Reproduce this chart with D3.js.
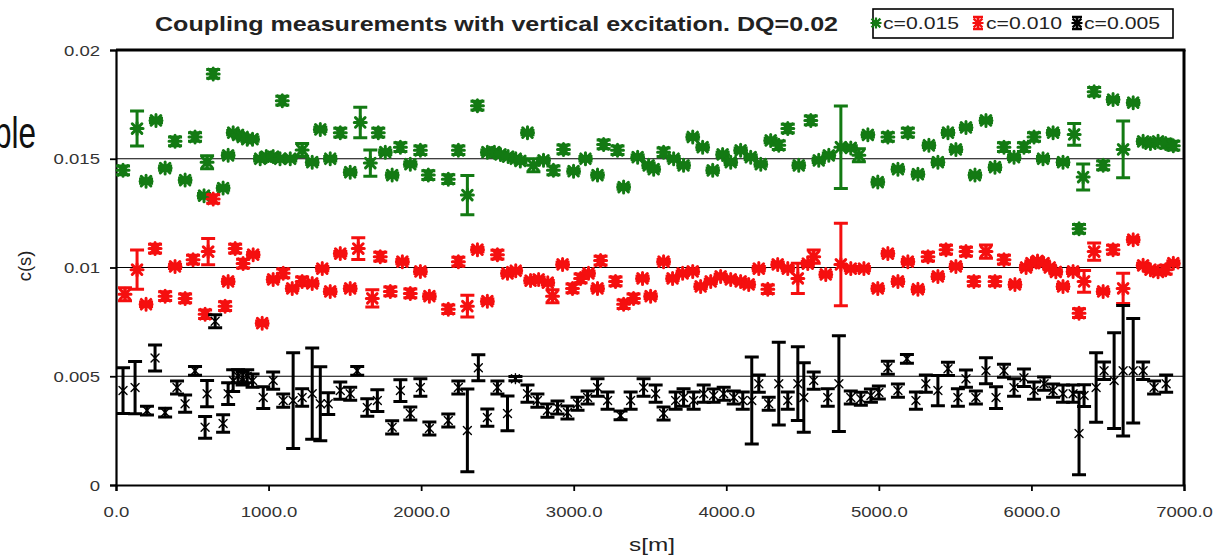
<!DOCTYPE html>
<html>
<head>
<meta charset="utf-8">
<script src="https://cdn.jsdelivr.net/npm/d3@7"></script>
<style>
  html, body { margin: 0; padding: 0; background: #fff; }
  svg { display: block; font-family: "Liberation Sans", Arial, sans-serif; }
</style>
</head>
<body>
<svg id="chart" width="1230" height="557"></svg>
<script>
// ---------- data (s [m], c, error half-width) ----------
const seriesNames = ["c=0.015", "c=0.010", "c=0.005"];
const yTickValues = [0, 0.005, 0.01, 0.015, 0.02];
const yTickLabels = ["0", "0.005", "0.01", "0.015", "0.02"];
const xTickValues = [0, 1000, 2000, 3000, 4000, 5000, 6000, 7000];
const xTickLabels = ["0.0", "1000.0", "2000.0", "3000.0", "4000.0", "5000.0", "6000.0", "7000.0"];
const gridValues = [0.005, 0.01, 0.015];

const greenData = [
  [46,0.01447,0.0002],[138,0.01639,0.0008],[197,0.01397,0.0001],[262,0.01676,0.0001],[322,0.01457,0.0001],
  [387,0.0158,0.0002],[453,0.01402,0.0001],[518,0.0160,0.0002],[577,0.0133,0.0001],[597,0.01484,0.0003],
  [637,0.0189,0.0002],[702,0.01365,0.0001],[735,0.01516,0.0001],[768,0.0162,0.0001],[800,0.0161,0.0001],
  [830,0.0160,0.0001],[860,0.0159,0.0001],[895,0.0159,0.0001],[945,0.0150,0.0001],[985,0.0151,0.0001],
  [1030,0.0151,0.0001],[1075,0.0150,0.0001],[1090,0.01767,0.0002],[1142,0.0150,0.0001],[1220,0.0154,0.0003],
  [1286,0.01484,0.0001],[1339,0.01635,0.0001],[1404,0.0150,0.0001],[1470,0.0162,0.0002],[1535,0.01438,0.0001],
  [1601,0.01667,0.0007],[1667,0.0148,0.0006],[1719,0.0162,0.0002],[1765,0.0153,0.0001],[1810,0.01425,0.0001],
  [1864,0.01553,0.0002],[1929,0.01475,0.0001],[1995,0.01539,0.0002],[2047,0.01425,0.0002],[2178,0.01406,0.0002],
  [2244,0.01539,0.0002],[2303,0.01333,0.0009],[2369,0.01744,0.0002],[2434,0.0153,0.0001],[2480,0.0153,0.0001],
  [2520,0.0152,0.0001],[2570,0.0151,0.0001],[2620,0.0150,0.0001],[2650,0.0149,0.0001],[2697,0.0162,0.0001],
  [2736,0.0147,0.0003],[2802,0.01493,0.0001],[2867,0.01447,0.0002],[2933,0.01543,0.0002],[2999,0.01443,0.0001],
  [3077,0.0150,0.0001],[3156,0.01425,0.0001],[3196,0.01566,0.0002],[3287,0.01539,0.0002],[3327,0.0137,0.0001],
  [3419,0.01507,0.0001],[3491,0.0147,0.0001],[3524,0.01452,0.0001],[3589,0.0153,0.0002],[3655,0.0150,0.0001],
  [3720,0.0147,0.0001],[3780,0.0160,0.0001],[3845,0.01553,0.0001],[3911,0.01447,0.0001],[3976,0.0152,0.0001],
  [4029,0.01484,0.0001],[4094,0.01539,0.0001],[4160,0.01507,0.0001],[4226,0.01475,0.0001],[4291,0.01584,0.0001],
  [4344,0.01562,0.0002],[4403,0.01639,0.0002],[4475,0.0147,0.0001],[4554,0.01676,0.0002],[4606,0.01493,0.0001],
  [4672,0.01516,0.0001],[4751,0.01553,0.0019],[4816,0.0155,0.0001],[4869,0.01516,0.0003],[4928,0.0161,0.0001],
  [4993,0.01393,0.0001],[5059,0.0160,0.0002],[5125,0.01452,0.0001],[5190,0.0162,0.0002],[5256,0.01429,0.0001],
  [5328,0.01562,0.0001],[5387,0.01484,0.0001],[5453,0.0162,0.0001],[5505,0.01543,0.0001],[5571,0.01644,0.0001],
  [5630,0.01425,0.0001],[5702,0.01676,0.0001],[5761,0.01461,0.0001],[5820,0.01553,0.0002],[5886,0.01507,0.0001],
  [5951,0.01553,0.0002],[6017,0.0160,0.0002],[6076,0.0150,0.0001],[6142,0.0162,0.0001],[6207,0.01484,0.0001],
  [6280,0.01612,0.0005],[6312,0.01178,0.0002],[6339,0.01416,0.0006],[6411,0.01808,0.0002],[6470,0.0147,0.0002],
  [6535,0.01772,0.0001],[6601,0.01543,0.0013],[6667,0.01758,0.0001],[6732,0.0158,0.0001],[6780,0.0157,0.0001],
  [6830,0.0158,0.0001],[6880,0.0157,0.0002],[6930,0.0156,0.0002]
];

const redData = [
  [59,0.00877,0.0003],[138,0.0099,0.0009],[197,0.00831,0.0001],[256,0.01087,0.0002],[322,0.00868,0.0002],
  [387,0.01005,0.0001],[453,0.00858,0.0002],[505,0.01036,0.0002],[584,0.00785,0.0002],[604,0.01073,0.0006],
  [637,0.01315,0.0002],[715,0.00822,0.0002],[735,0.00936,0.0001],[781,0.01087,0.0002],[833,0.01018,0.0002],
  [899,0.01059,0.0001],[958,0.00744,0.0001],[1030,0.00945,0.0001],[1096,0.00973,0.0002],[1155,0.00904,0.0001],
  [1220,0.00936,0.0002],[1286,0.00927,0.0001],[1352,0.00995,0.0001],[1404,0.0089,0.0001],[1470,0.01064,0.0001],
  [1535,0.00904,0.0001],[1588,0.01087,0.0005],[1680,0.00858,0.0004],[1732,0.0105,0.0002],[1798,0.0089,0.0002],
  [1877,0.01027,0.0001],[1929,0.00881,0.0002],[1995,0.00982,0.0001],[2054,0.00868,0.0001],[2178,0.00808,0.0002],
  [2244,0.01027,0.0002],[2303,0.00822,0.0005],[2369,0.01082,0.0001],[2434,0.00845,0.0001],[2500,0.01059,0.0002],
  [2566,0.00973,0.0001],[2620,0.00985,0.0001],[2717,0.0094,0.0001],[2770,0.00945,0.0001],[2830,0.0093,0.0001],
  [2861,0.00868,0.0003],[2927,0.01014,0.0001],[2992,0.00904,0.0002],[3045,0.0095,0.0002],[3097,0.00973,0.0001],
  [3156,0.00904,0.0001],[3176,0.01032,0.0002],[3274,0.00936,0.0002],[3327,0.00831,0.0002],[3392,0.00858,0.0002],
  [3451,0.0095,0.0001],[3504,0.00868,0.0001],[3589,0.01027,0.0001],[3648,0.0095,0.0001],[3714,0.00973,0.0001],
  [3780,0.00982,0.0001],[3832,0.00913,0.0001],[3898,0.00936,0.0001],[3963,0.00959,0.0001],[4029,0.00945,0.0001],
  [4094,0.00936,0.0001],[4147,0.00922,0.0001],[4213,0.00995,0.0001],[4272,0.0090,0.0002],[4337,0.01014,0.0001],
  [4403,0.00995,0.0001],[4469,0.0095,0.0007],[4534,0.01018,0.0001],[4573,0.0105,0.0003],[4652,0.00968,0.0001],
  [4751,0.01014,0.0019],[4816,0.00995,0.0001],[4902,0.00995,0.0001],[4993,0.00904,0.0001],[5059,0.01064,0.0001],
  [5125,0.00936,0.0001],[5190,0.01027,0.0001],[5256,0.0090,0.0001],[5322,0.0105,0.0002],[5387,0.00959,0.0001],
  [5440,0.01082,0.0002],[5505,0.01005,0.0001],[5571,0.01073,0.0002],[5623,0.00936,0.0002],[5702,0.01073,0.0003],
  [5761,0.00936,0.0002],[5820,0.01036,0.0002],[5892,0.00922,0.0001],[5965,0.0100,0.0001],[6000,0.0102,0.0001],
  [6040,0.0103,0.0001],[6080,0.0102,0.0001],[6120,0.0100,0.0001],[6160,0.0098,0.0001],[6207,0.00913,0.0001],
  [6273,0.00982,0.0001],[6312,0.0079,0.0002],[6345,0.00936,0.0005],[6411,0.01073,0.0004],[6470,0.0089,0.0001],
  [6535,0.01082,0.0002],[6601,0.00904,0.0007],[6667,0.01128,0.0001],[6732,0.0101,0.0001],[6780,0.0099,0.0001],
  [6830,0.0098,0.0001],[6880,0.0099,0.0002],[6930,0.0102,0.0001]
];

const blackData = [
  [46,0.00434,0.00105],[125,0.00448,0.0012],[203,0.00342,0.0002],[256,0.00584,0.0006],[322,0.00333,0.0002],
  [400,0.00448,0.0003],[453,0.00374,0.0004],[518,0.00525,0.0002],[584,0.00265,0.0005],[597,0.0042,0.0006],
  [650,0.00753,0.0003],[702,0.00283,0.0004],[735,0.0042,0.0005],[768,0.0048,0.0005],[800,0.0050,0.0003],
  [830,0.0049,0.0003],[860,0.0050,0.0003],[895,0.0048,0.0003],[965,0.00402,0.0005],[1030,0.0048,0.0004],
  [1096,0.00388,0.0003],[1161,0.00388,0.0022],[1220,0.00402,0.0004],[1286,0.0042,0.0021],[1339,0.00374,0.0017],
  [1391,0.00374,0.0005],[1470,0.00434,0.0004],[1535,0.0042,0.0003],[1581,0.00525,0.0002],[1647,0.00356,0.0004],
  [1713,0.00388,0.0005],[1810,0.00265,0.0003],[1864,0.00434,0.0005],[1929,0.00329,0.0003],[1995,0.00448,0.0004],
  [2054,0.0026,0.0003],[2178,0.00297,0.0003],[2244,0.00448,0.0003],[2303,0.00251,0.0019],[2375,0.00539,0.0006],
  [2434,0.0031,0.0004],[2500,0.00448,0.0003],[2566,0.00329,0.0008],[2618,0.00489,0.0001],[2697,0.0042,0.0004],
  [2762,0.00388,0.0003],[2828,0.00342,0.0003],[2894,0.00356,0.0003],[2959,0.00333,0.0003],[3025,0.00374,0.0003],
  [3091,0.00402,0.0003],[3156,0.00448,0.0004],[3222,0.00388,0.0004],[3307,0.0032,0.0002],[3373,0.00388,0.0004],
  [3458,0.00448,0.0004],[3537,0.0042,0.0004],[3589,0.00329,0.0003],[3668,0.00388,0.0004],[3720,0.00402,0.0004],
  [3786,0.00388,0.0004],[3852,0.0042,0.0004],[3917,0.00411,0.0003],[3983,0.0042,0.0003],[4049,0.00402,0.0003],
  [4108,0.00388,0.0004],[4167,0.00388,0.002],[4213,0.00466,0.0004],[4278,0.00374,0.0003],[4344,0.00466,0.0019],
  [4403,0.00388,0.0004],[4469,0.00466,0.0017],[4508,0.00402,0.0016],[4573,0.0048,0.0004],[4665,0.00402,0.0004],
  [4738,0.00466,0.0022],[4816,0.00402,0.0003],[4882,0.00397,0.0003],[4948,0.00411,0.0003],[5000,0.00425,0.0003],
  [5059,0.00539,0.0003],[5125,0.00434,0.0003],[5184,0.0058,0.0002],[5243,0.00388,0.0004],[5308,0.00466,0.0004],
  [5387,0.00434,0.0007],[5453,0.00534,0.0003],[5518,0.00402,0.0004],[5571,0.00489,0.0004],[5636,0.00402,0.0003],
  [5702,0.00525,0.0006],[5768,0.00402,0.0005],[5820,0.00525,0.0003],[5886,0.00448,0.0004],[5951,0.00493,0.0004],
  [6017,0.00434,0.0004],[6083,0.00466,0.0003],[6142,0.00434,0.0003],[6207,0.0042,0.0004],[6273,0.0042,0.0004],
  [6312,0.00237,0.0019],[6345,0.00411,0.0005],[6424,0.00448,0.0016],[6476,0.00525,0.0004],[6542,0.0048,0.0022],
  [6601,0.00525,0.003],[6667,0.00525,0.0024],[6732,0.00525,0.0004],[6804,0.00448,0.0003],[6883,0.00466,0.0004]
];

const seriesColors = ["#137a13", "#f50f0f", "#000000"];

// ---------- layout ----------
const svg = d3.select("#chart");
const plotL = 116, plotR = 1184, plotT = 50, plotB = 485;
const x = d3.scaleLinear().domain([0, 7000]).range([plotL, plotR]);
const y = d3.scaleLinear().domain([0, 0.02]).range([plotB, plotT]);
const SX = 1.28; // horizontal stretch of the original text

svg.append("rect").attr("width", 1230).attr("height", 557).attr("fill", "#fff");

// left-over slide text (partly off the left edge, as in the reference)
svg.append("text").attr("transform", "translate(36,148) scale(0.7,1)")
  .attr("text-anchor", "end").attr("font-size", 45).attr("fill", "#111").text("ple");

// title
svg.append("text").attr("x", 155).attr("y", 31)
  .attr("font-size", 20.5).attr("font-weight", "bold").attr("fill", "#222")
  .attr("textLength", 683).attr("lengthAdjust", "spacingAndGlyphs")
  .text("Coupling measurements with vertical excitation. DQ=0.02");

// grid lines
svg.append("g").selectAll("line").data(gridValues).join("line")
  .attr("x1", plotL).attr("x2", plotR)
  .attr("y1", d => y(d)).attr("y2", d => y(d))
  .attr("stroke", "#000").attr("stroke-width", 1.2);

// frame top / right
svg.append("line").attr("x1", plotL).attr("x2", plotR + 1.5).attr("y1", plotT).attr("y2", plotT)
  .attr("stroke", "#000").attr("stroke-width", 3);
svg.append("line").attr("x1", plotR).attr("x2", plotR).attr("y1", plotT).attr("y2", plotB)
  .attr("stroke", "#000").attr("stroke-width", 3);

// axes
const yAxis = d3.axisLeft(y).tickValues(yTickValues)
  .tickFormat((d, i) => yTickLabels[i]).tickSizeOuter(0).tickSize(6);
const gy = svg.append("g").attr("transform", `translate(${plotL},0)`).call(yAxis);
gy.select(".domain").attr("stroke-width", 2.2);
gy.selectAll(".tick line").attr("stroke-width", 1.8);
gy.selectAll(".tick text")
  .attr("x", -16 / SX).attr("dy", "0.36em")
  .attr("transform", `scale(${SX},1)`)
  .attr("font-size", 14.5).attr("fill", "#333")
  .attr("font-family", "'Liberation Sans', Arial, sans-serif");

const xAxis = d3.axisBottom(x).tickValues(xTickValues)
  .tickFormat((d, i) => xTickLabels[i]).tickSizeOuter(0).tickSize(6);
const gx = svg.append("g").attr("transform", `translate(0,${plotB})`).call(xAxis);
gx.select(".domain").attr("stroke-width", 2.2);
gx.selectAll(".tick line").attr("stroke-width", 1.8);
gx.selectAll(".tick text")
  .attr("y", 32).attr("dy", 0)
  .attr("transform", `scale(${SX},1)`)
  .attr("font-size", 14.5).attr("fill", "#333")
  .attr("font-family", "'Liberation Sans', Arial, sans-serif");

// axis titles
svg.append("text").attr("transform", `translate(652,551) scale(${SX},1)`)
  .attr("text-anchor", "middle").attr("font-size", 19).attr("fill", "#222").text("s[m]");
svg.append("text").attr("transform", `translate(31,266) rotate(-90) scale(1.15,1.2)`)
  .attr("text-anchor", "middle").attr("font-size", 16).attr("fill", "#222").text("c(s)");

// ---------- markers ----------
function starPath(r, thin) {
  const d = r * 0.8;
  let p = `M0,${-r}L0,${r}M${-d},${-d}L${d},${d}M${-d},${d}L${d},${-d}`;
  if (!thin) p += `M${-r},0L${r},0`;
  return p;
}

function drawSeries(data, color, opts) {
  const g = svg.append("g");
  const pts = g.selectAll("g").data(data).join("g")
    .attr("transform", d => `translate(${x(d[0])},${y(d[1])})`);
  pts.append("path")
    .attr("d", d => {
      const yt = y(d[1] + d[2]) - y(d[1]);
      const yb = y(d[1] - d[2]) - y(d[1]);
      const w = opts.cap / 2;
      return `M0,${yt}L0,${yb}M${-w},${yt}L${w},${yt}M${-w},${yb}L${w},${yb}`;
    })
    .attr("fill", "none").attr("stroke", color).attr("stroke-width", opts.barW);
  pts.append("path")
    .attr("d", starPath(opts.r, opts.thin))
    .attr("fill", "none").attr("stroke", color)
    .attr("stroke-width", opts.markW).attr("stroke-linecap", "round");
}

drawSeries(greenData, seriesColors[0], { cap: 14, barW: 3, r: 6, markW: 3, thin: false });
drawSeries(redData, seriesColors[1], { cap: 14, barW: 3, r: 6, markW: 3, thin: false });
drawSeries(blackData, seriesColors[2], { cap: 14, barW: 3, r: 5, markW: 1.4, thin: true });

// ---------- legend ----------
svg.append("rect").attr("x", 873).attr("y", 9).attr("width", 300).attr("height", 29)
  .attr("fill", "#fff").attr("stroke", "#000").attr("stroke-width", 1.6);
const legendMarkX = [876, 978, 1077];
const legendTextX = [883, 986, 1084];
const legendErr = [0, 6, 6];
seriesNames.forEach((name, i) => {
  const lg = svg.append("g").attr("transform", `translate(${legendMarkX[i]},23)`);
  if (legendErr[i] > 0) {
    const e = legendErr[i];
    lg.append("path").attr("d", `M0,${-e}L0,${e}M-5,${-e}L5,${-e}M-5,${e}L5,${e}`)
      .attr("stroke", seriesColors[i]).attr("stroke-width", 2.6).attr("fill", "none");
  }
  lg.append("path").attr("d", starPath(5.5, false))
    .attr("stroke", seriesColors[i]).attr("stroke-width", 2.2).attr("fill", "none");
  svg.append("text").attr("x", legendTextX[i]).attr("y", 28.5)
    .attr("font-size", 16).attr("fill", "#222")
    .attr("textLength", 76).attr("lengthAdjust", "spacingAndGlyphs")
    .text(name);
});
</script>
</body>
</html>
